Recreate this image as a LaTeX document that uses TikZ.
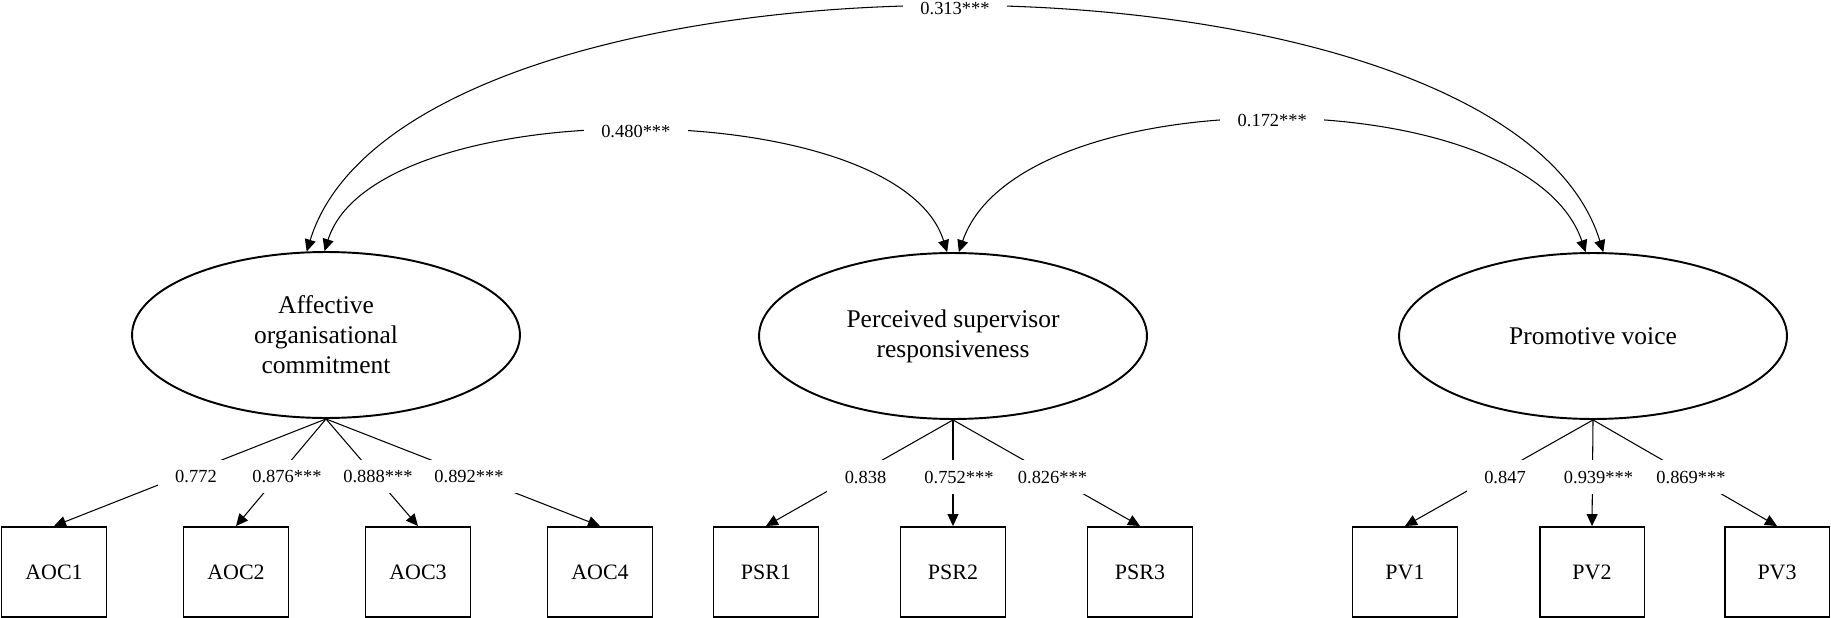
\documentclass[tikz,border=0pt]{standalone}
\usepackage{fontspec}
\setmainfont{Liberation Serif}
\usetikzlibrary{arrows.meta}
\usepgflibrary{shapes.geometric}

\begin{document}
    \begin{tikzpicture}[x=0.02cm, y=-0.02cm,
        latent/.style={draw, ellipse, line width=1.1pt, minimum width=7.76cm, minimum height=3.32cm, inner sep=0pt, align=center, font=\fontsize{14.5}{17}\selectfont},
        indicator/.style={draw, rectangle, line width=1.1pt, minimum width=2.1cm, minimum height=1.8cm, font=\fontsize{12.5}{15}\selectfont},
        loading/.style={line width=0.6pt, -{Triangle[length=0.24cm, width=0.22cm]}},
        cov/.style={line width=0.6pt, {Triangle[length=0.24cm, width=0.22cm]}-{Triangle[length=0.24cm, width=0.22cm]}},
        coef/.style={fill=white, inner xsep=10pt, inner ysep=6pt, font=\fontsize{10.5}{12}\selectfont},
        lcoef/.style={coef, xshift=0.12cm, yshift=-0.08cm}]
        \useasboundingbox (0,0) rectangle (1831,618);

        \node[latent] (aoc) at (326,335) {Affective\\organisational\\commitment};
        \node[latent] (psr) at (953,336) {Perceived supervisor\\responsiveness};
        \node[latent] (pv) at (1593,336) {Promotive voice};

        \foreach \i/\x/\l in {1/54/0.772, 2/236/0.876***, 3/418/0.888***, 4/600/0.892***}{
            \node[indicator] (aoc\i) at (\x,572) {AOC\i};
            \draw[loading] (aoc.south) -- node[lcoef]{\l} (aoc\i.north);
        }
        \foreach \i/\x/\l in {1/766/0.838, 2/953/0.752***, 3/1140/0.826***}{
            \node[indicator] (psr\i) at (\x,572) {PSR\i};
            \draw[loading] (psr.south) -- node[lcoef]{\l} (psr\i.north);
        }
        \foreach \i/\x/\l in {1/1405/0.847, 2/1592/0.939***, 3/1777/0.869***}{
            \node[indicator] (pv\i) at (\x,572) {PV\i};
            \draw[loading] (pv.south) -- node[lcoef]{\l} (pv\i.north);
        }

        \draw[cov] (aoc.103.6) .. controls +(100,-325) and +(-100,-325) .. node[coef]{0.313***} (pv.83.1);
        \draw[cov] (aoc.91.4) .. controls +(50,-160) and +(-50,-160) .. node[coef]{0.480***} (psr.94.8);
        \draw[cov] (psr.86.6) .. controls +(60,-175) and +(-60,-175) .. node[coef]{0.172***} (pv.95.5);

    \end{tikzpicture}
\end{document}
